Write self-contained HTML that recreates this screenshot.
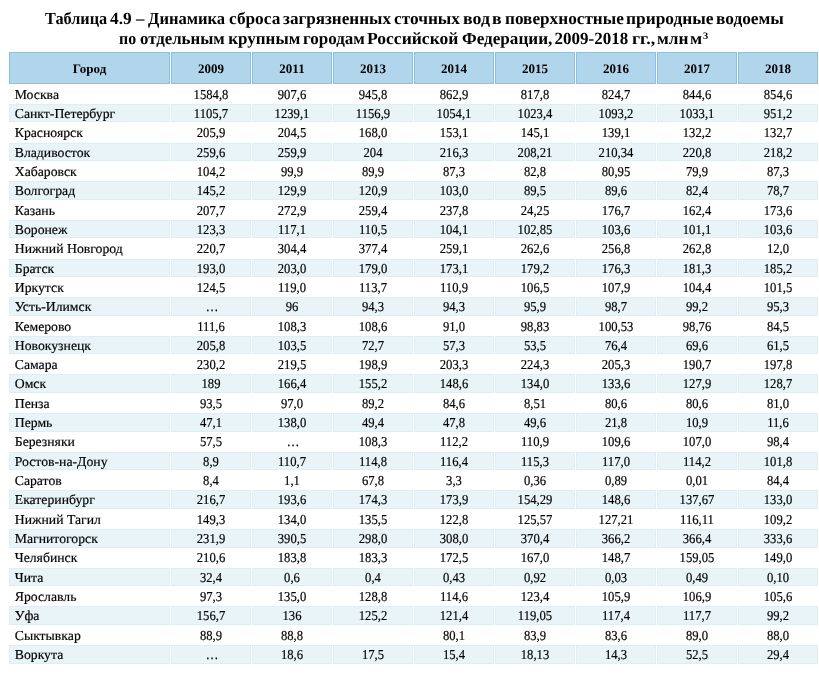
<!DOCTYPE html><html><head><meta charset="utf-8"><title>Таблица 4.9</title><style>
*{margin:0;padding:0;box-sizing:border-box}
html,body{width:819px;height:675px;background:#fff;overflow:hidden}
body{position:relative;font-family:"Liberation Serif",serif;color:#000}
.t{position:absolute;left:0;width:827px;text-align:center;font-weight:bold;font-size:17px;line-height:20px;white-space:nowrap;letter-spacing:-0.09px}
.tw{position:absolute;font-weight:bold;font-size:17px;line-height:20px;white-space:nowrap;transform-origin:0 0}
.h{position:absolute;top:52px;height:32px;background:#b1d5ea;border:1px solid #8cc0e1}
.ht{position:absolute;top:53px;height:32px;font-weight:bold;font-size:13px;line-height:32px;text-align:center}
.a{position:absolute;height:18.5px;background:#e8f4f7;border:1px solid #deeff4}
.c{position:absolute;line-height:19.325px;height:19.325px;white-space:nowrap;-webkit-text-stroke:0.18px #000}
.n{font-size:13.6px;text-align:center;transform:scaleX(0.93);transform-origin:50% 50%}
.l{font-size:13.6px;text-align:left;padding-left:5.7px;transform:scaleX(1.01);transform-origin:0 50%}
#tx{position:absolute;left:0;top:0;width:819px;height:675px;will-change:transform;text-rendering:geometricPrecision}
sup{font-size:10px;line-height:0;vertical-align:5px;margin-left:0.9px}
</style></head><body>
<div class="h" style="left:9px;width:161px"></div>
<div class="h" style="left:171px;width:80px"></div>
<div class="h" style="left:252px;width:80px"></div>
<div class="h" style="left:333px;width:80px"></div>
<div class="h" style="left:414px;width:80px"></div>
<div class="h" style="left:495px;width:80px"></div>
<div class="h" style="left:576px;width:80px"></div>
<div class="h" style="left:657px;width:80px"></div>
<div class="h" style="left:738px;width:80px"></div>
<div class="a" style="left:9px;width:161px;top:103.90px"></div>
<div class="a" style="left:171px;width:80px;top:103.90px"></div>
<div class="a" style="left:252px;width:80px;top:103.90px"></div>
<div class="a" style="left:333px;width:80px;top:103.90px"></div>
<div class="a" style="left:414px;width:80px;top:103.90px"></div>
<div class="a" style="left:495px;width:80px;top:103.90px"></div>
<div class="a" style="left:576px;width:80px;top:103.90px"></div>
<div class="a" style="left:657px;width:80px;top:103.90px"></div>
<div class="a" style="left:738px;width:80px;top:103.90px"></div>
<div class="a" style="left:9px;width:161px;top:142.55px"></div>
<div class="a" style="left:171px;width:80px;top:142.55px"></div>
<div class="a" style="left:252px;width:80px;top:142.55px"></div>
<div class="a" style="left:333px;width:80px;top:142.55px"></div>
<div class="a" style="left:414px;width:80px;top:142.55px"></div>
<div class="a" style="left:495px;width:80px;top:142.55px"></div>
<div class="a" style="left:576px;width:80px;top:142.55px"></div>
<div class="a" style="left:657px;width:80px;top:142.55px"></div>
<div class="a" style="left:738px;width:80px;top:142.55px"></div>
<div class="a" style="left:9px;width:161px;top:181.20px"></div>
<div class="a" style="left:171px;width:80px;top:181.20px"></div>
<div class="a" style="left:252px;width:80px;top:181.20px"></div>
<div class="a" style="left:333px;width:80px;top:181.20px"></div>
<div class="a" style="left:414px;width:80px;top:181.20px"></div>
<div class="a" style="left:495px;width:80px;top:181.20px"></div>
<div class="a" style="left:576px;width:80px;top:181.20px"></div>
<div class="a" style="left:657px;width:80px;top:181.20px"></div>
<div class="a" style="left:738px;width:80px;top:181.20px"></div>
<div class="a" style="left:9px;width:161px;top:219.85px"></div>
<div class="a" style="left:171px;width:80px;top:219.85px"></div>
<div class="a" style="left:252px;width:80px;top:219.85px"></div>
<div class="a" style="left:333px;width:80px;top:219.85px"></div>
<div class="a" style="left:414px;width:80px;top:219.85px"></div>
<div class="a" style="left:495px;width:80px;top:219.85px"></div>
<div class="a" style="left:576px;width:80px;top:219.85px"></div>
<div class="a" style="left:657px;width:80px;top:219.85px"></div>
<div class="a" style="left:738px;width:80px;top:219.85px"></div>
<div class="a" style="left:9px;width:161px;top:258.50px"></div>
<div class="a" style="left:171px;width:80px;top:258.50px"></div>
<div class="a" style="left:252px;width:80px;top:258.50px"></div>
<div class="a" style="left:333px;width:80px;top:258.50px"></div>
<div class="a" style="left:414px;width:80px;top:258.50px"></div>
<div class="a" style="left:495px;width:80px;top:258.50px"></div>
<div class="a" style="left:576px;width:80px;top:258.50px"></div>
<div class="a" style="left:657px;width:80px;top:258.50px"></div>
<div class="a" style="left:738px;width:80px;top:258.50px"></div>
<div class="a" style="left:9px;width:161px;top:297.15px"></div>
<div class="a" style="left:171px;width:80px;top:297.15px"></div>
<div class="a" style="left:252px;width:80px;top:297.15px"></div>
<div class="a" style="left:333px;width:80px;top:297.15px"></div>
<div class="a" style="left:414px;width:80px;top:297.15px"></div>
<div class="a" style="left:495px;width:80px;top:297.15px"></div>
<div class="a" style="left:576px;width:80px;top:297.15px"></div>
<div class="a" style="left:657px;width:80px;top:297.15px"></div>
<div class="a" style="left:738px;width:80px;top:297.15px"></div>
<div class="a" style="left:9px;width:161px;top:335.80px"></div>
<div class="a" style="left:171px;width:80px;top:335.80px"></div>
<div class="a" style="left:252px;width:80px;top:335.80px"></div>
<div class="a" style="left:333px;width:80px;top:335.80px"></div>
<div class="a" style="left:414px;width:80px;top:335.80px"></div>
<div class="a" style="left:495px;width:80px;top:335.80px"></div>
<div class="a" style="left:576px;width:80px;top:335.80px"></div>
<div class="a" style="left:657px;width:80px;top:335.80px"></div>
<div class="a" style="left:738px;width:80px;top:335.80px"></div>
<div class="a" style="left:9px;width:161px;top:374.45px"></div>
<div class="a" style="left:171px;width:80px;top:374.45px"></div>
<div class="a" style="left:252px;width:80px;top:374.45px"></div>
<div class="a" style="left:333px;width:80px;top:374.45px"></div>
<div class="a" style="left:414px;width:80px;top:374.45px"></div>
<div class="a" style="left:495px;width:80px;top:374.45px"></div>
<div class="a" style="left:576px;width:80px;top:374.45px"></div>
<div class="a" style="left:657px;width:80px;top:374.45px"></div>
<div class="a" style="left:738px;width:80px;top:374.45px"></div>
<div class="a" style="left:9px;width:161px;top:413.10px"></div>
<div class="a" style="left:171px;width:80px;top:413.10px"></div>
<div class="a" style="left:252px;width:80px;top:413.10px"></div>
<div class="a" style="left:333px;width:80px;top:413.10px"></div>
<div class="a" style="left:414px;width:80px;top:413.10px"></div>
<div class="a" style="left:495px;width:80px;top:413.10px"></div>
<div class="a" style="left:576px;width:80px;top:413.10px"></div>
<div class="a" style="left:657px;width:80px;top:413.10px"></div>
<div class="a" style="left:738px;width:80px;top:413.10px"></div>
<div class="a" style="left:9px;width:161px;top:451.75px"></div>
<div class="a" style="left:171px;width:80px;top:451.75px"></div>
<div class="a" style="left:252px;width:80px;top:451.75px"></div>
<div class="a" style="left:333px;width:80px;top:451.75px"></div>
<div class="a" style="left:414px;width:80px;top:451.75px"></div>
<div class="a" style="left:495px;width:80px;top:451.75px"></div>
<div class="a" style="left:576px;width:80px;top:451.75px"></div>
<div class="a" style="left:657px;width:80px;top:451.75px"></div>
<div class="a" style="left:738px;width:80px;top:451.75px"></div>
<div class="a" style="left:9px;width:161px;top:490.40px"></div>
<div class="a" style="left:171px;width:80px;top:490.40px"></div>
<div class="a" style="left:252px;width:80px;top:490.40px"></div>
<div class="a" style="left:333px;width:80px;top:490.40px"></div>
<div class="a" style="left:414px;width:80px;top:490.40px"></div>
<div class="a" style="left:495px;width:80px;top:490.40px"></div>
<div class="a" style="left:576px;width:80px;top:490.40px"></div>
<div class="a" style="left:657px;width:80px;top:490.40px"></div>
<div class="a" style="left:738px;width:80px;top:490.40px"></div>
<div class="a" style="left:9px;width:161px;top:529.05px"></div>
<div class="a" style="left:171px;width:80px;top:529.05px"></div>
<div class="a" style="left:252px;width:80px;top:529.05px"></div>
<div class="a" style="left:333px;width:80px;top:529.05px"></div>
<div class="a" style="left:414px;width:80px;top:529.05px"></div>
<div class="a" style="left:495px;width:80px;top:529.05px"></div>
<div class="a" style="left:576px;width:80px;top:529.05px"></div>
<div class="a" style="left:657px;width:80px;top:529.05px"></div>
<div class="a" style="left:738px;width:80px;top:529.05px"></div>
<div class="a" style="left:9px;width:161px;top:567.70px"></div>
<div class="a" style="left:171px;width:80px;top:567.70px"></div>
<div class="a" style="left:252px;width:80px;top:567.70px"></div>
<div class="a" style="left:333px;width:80px;top:567.70px"></div>
<div class="a" style="left:414px;width:80px;top:567.70px"></div>
<div class="a" style="left:495px;width:80px;top:567.70px"></div>
<div class="a" style="left:576px;width:80px;top:567.70px"></div>
<div class="a" style="left:657px;width:80px;top:567.70px"></div>
<div class="a" style="left:738px;width:80px;top:567.70px"></div>
<div class="a" style="left:9px;width:161px;top:606.35px"></div>
<div class="a" style="left:171px;width:80px;top:606.35px"></div>
<div class="a" style="left:252px;width:80px;top:606.35px"></div>
<div class="a" style="left:333px;width:80px;top:606.35px"></div>
<div class="a" style="left:414px;width:80px;top:606.35px"></div>
<div class="a" style="left:495px;width:80px;top:606.35px"></div>
<div class="a" style="left:576px;width:80px;top:606.35px"></div>
<div class="a" style="left:657px;width:80px;top:606.35px"></div>
<div class="a" style="left:738px;width:80px;top:606.35px"></div>
<div class="a" style="left:9px;width:161px;top:645.00px"></div>
<div class="a" style="left:171px;width:80px;top:645.00px"></div>
<div class="a" style="left:252px;width:80px;top:645.00px"></div>
<div class="a" style="left:333px;width:80px;top:645.00px"></div>
<div class="a" style="left:414px;width:80px;top:645.00px"></div>
<div class="a" style="left:495px;width:80px;top:645.00px"></div>
<div class="a" style="left:576px;width:80px;top:645.00px"></div>
<div class="a" style="left:657px;width:80px;top:645.00px"></div>
<div class="a" style="left:738px;width:80px;top:645.00px"></div>
<div id="tx">
<div class="tw" style="top:9.3px;left:44.60px;transform:scaleX(0.954)">Таблица</div>
<div class="tw" style="top:9.3px;left:110.00px;transform:scaleX(1.019)">4.9</div>
<div class="tw" style="top:9.3px;left:135.90px;transform:scaleX(0.988)">–</div>
<div class="tw" style="top:9.3px;left:148.10px;transform:scaleX(0.973)">Динамика</div>
<div class="tw" style="top:9.3px;left:228.88px;transform:scaleX(1.016)">сброса</div>
<div class="tw" style="top:9.3px;left:283.40px;transform:scaleX(1.007)">загрязненных</div>
<div class="tw" style="top:9.3px;left:393.68px;transform:scaleX(1.017)">сточных</div>
<div class="tw" style="top:9.3px;left:462.65px;transform:scaleX(1.050)">вод</div>
<div class="tw" style="top:9.3px;left:491.95px;transform:scaleX(1.050)">в</div>
<div class="tw" style="top:9.3px;left:505.09px;transform:scaleX(1.013)">поверхностные</div>
<div class="tw" style="top:9.3px;left:626.48px;transform:scaleX(1.020)">природные</div>
<div class="tw" style="top:9.3px;left:716.08px;transform:scaleX(1.020)">водоемы</div>
<div class="tw" style="top:29.3px;left:118.56px;transform:scaleX(0.935)">по</div>
<div class="tw" style="top:29.3px;left:140.11px;transform:scaleX(0.989)">отдельным</div>
<div class="tw" style="top:29.3px;left:228.30px;transform:scaleX(1.000)">крупным</div>
<div class="tw" style="top:29.3px;left:303.40px;transform:scaleX(0.998)">городам</div>
<div class="tw" style="top:29.3px;left:367.07px;transform:scaleX(1.032)">Российской</div>
<div class="tw" style="top:29.3px;left:461.99px;transform:scaleX(1.007)">Федерации,</div>
<div class="tw" style="top:29.3px;left:554.50px;transform:scaleX(1.000)">2009-2018</div>
<div class="tw" style="top:29.3px;left:631.85px;transform:scaleX(1.050)">гг.,</div>
<div class="tw" style="top:29.3px;left:657.28px;transform:scaleX(1.017)">млн</div>
<div class="tw" style="top:29.3px;left:690.35px;transform:scaleX(1.050)">м<sup>3</sup></div>
<div class="ht" style="left:9px;width:161px">Город</div>
<div class="ht" style="left:171px;width:80px">2009</div>
<div class="ht" style="left:252px;width:80px">2011</div>
<div class="ht" style="left:333px;width:80px">2013</div>
<div class="ht" style="left:414px;width:80px">2014</div>
<div class="ht" style="left:495px;width:80px">2015</div>
<div class="ht" style="left:576px;width:80px">2016</div>
<div class="ht" style="left:657px;width:80px">2017</div>
<div class="ht" style="left:738px;width:80px">2018</div>
<div class="c l" style="left:9px;width:161px;top:84.60px">Москва</div>
<div class="c n" style="left:171px;width:80px;top:84.60px">1584,8</div>
<div class="c n" style="left:252px;width:80px;top:84.60px">907,6</div>
<div class="c n" style="left:333px;width:80px;top:84.60px">945,8</div>
<div class="c n" style="left:414px;width:80px;top:84.60px">862,9</div>
<div class="c n" style="left:495px;width:80px;top:84.60px">817,8</div>
<div class="c n" style="left:576px;width:80px;top:84.60px">824,7</div>
<div class="c n" style="left:657px;width:80px;top:84.60px">844,6</div>
<div class="c n" style="left:738px;width:80px;top:84.60px">854,6</div>
<div class="c l" style="left:9px;width:161px;top:103.92px">Санкт-Петербург</div>
<div class="c n" style="left:171px;width:80px;top:103.92px">1105,7</div>
<div class="c n" style="left:252px;width:80px;top:103.92px">1239,1</div>
<div class="c n" style="left:333px;width:80px;top:103.92px">1156,9</div>
<div class="c n" style="left:414px;width:80px;top:103.92px">1054,1</div>
<div class="c n" style="left:495px;width:80px;top:103.92px">1023,4</div>
<div class="c n" style="left:576px;width:80px;top:103.92px">1093,2</div>
<div class="c n" style="left:657px;width:80px;top:103.92px">1033,1</div>
<div class="c n" style="left:738px;width:80px;top:103.92px">951,2</div>
<div class="c l" style="left:9px;width:161px;top:123.25px">Красноярск</div>
<div class="c n" style="left:171px;width:80px;top:123.25px">205,9</div>
<div class="c n" style="left:252px;width:80px;top:123.25px">204,5</div>
<div class="c n" style="left:333px;width:80px;top:123.25px">168,0</div>
<div class="c n" style="left:414px;width:80px;top:123.25px">153,1</div>
<div class="c n" style="left:495px;width:80px;top:123.25px">145,1</div>
<div class="c n" style="left:576px;width:80px;top:123.25px">139,1</div>
<div class="c n" style="left:657px;width:80px;top:123.25px">132,2</div>
<div class="c n" style="left:738px;width:80px;top:123.25px">132,7</div>
<div class="c l" style="left:9px;width:161px;top:142.57px">Владивосток</div>
<div class="c n" style="left:171px;width:80px;top:142.57px">259,6</div>
<div class="c n" style="left:252px;width:80px;top:142.57px">259,9</div>
<div class="c n" style="left:333px;width:80px;top:142.57px">204</div>
<div class="c n" style="left:414px;width:80px;top:142.57px">216,3</div>
<div class="c n" style="left:495px;width:80px;top:142.57px">208,21</div>
<div class="c n" style="left:576px;width:80px;top:142.57px">210,34</div>
<div class="c n" style="left:657px;width:80px;top:142.57px">220,8</div>
<div class="c n" style="left:738px;width:80px;top:142.57px">218,2</div>
<div class="c l" style="left:9px;width:161px;top:161.90px">Хабаровск</div>
<div class="c n" style="left:171px;width:80px;top:161.90px">104,2</div>
<div class="c n" style="left:252px;width:80px;top:161.90px">99,9</div>
<div class="c n" style="left:333px;width:80px;top:161.90px">89,9</div>
<div class="c n" style="left:414px;width:80px;top:161.90px">87,3</div>
<div class="c n" style="left:495px;width:80px;top:161.90px">82,8</div>
<div class="c n" style="left:576px;width:80px;top:161.90px">80,95</div>
<div class="c n" style="left:657px;width:80px;top:161.90px">79,9</div>
<div class="c n" style="left:738px;width:80px;top:161.90px">87,3</div>
<div class="c l" style="left:9px;width:161px;top:181.22px">Волгоград</div>
<div class="c n" style="left:171px;width:80px;top:181.22px">145,2</div>
<div class="c n" style="left:252px;width:80px;top:181.22px">129,9</div>
<div class="c n" style="left:333px;width:80px;top:181.22px">120,9</div>
<div class="c n" style="left:414px;width:80px;top:181.22px">103,0</div>
<div class="c n" style="left:495px;width:80px;top:181.22px">89,5</div>
<div class="c n" style="left:576px;width:80px;top:181.22px">89,6</div>
<div class="c n" style="left:657px;width:80px;top:181.22px">82,4</div>
<div class="c n" style="left:738px;width:80px;top:181.22px">78,7</div>
<div class="c l" style="left:9px;width:161px;top:200.55px">Казань</div>
<div class="c n" style="left:171px;width:80px;top:200.55px">207,7</div>
<div class="c n" style="left:252px;width:80px;top:200.55px">272,9</div>
<div class="c n" style="left:333px;width:80px;top:200.55px">259,4</div>
<div class="c n" style="left:414px;width:80px;top:200.55px">237,8</div>
<div class="c n" style="left:495px;width:80px;top:200.55px">24,25</div>
<div class="c n" style="left:576px;width:80px;top:200.55px">176,7</div>
<div class="c n" style="left:657px;width:80px;top:200.55px">162,4</div>
<div class="c n" style="left:738px;width:80px;top:200.55px">173,6</div>
<div class="c l" style="left:9px;width:161px;top:219.88px">Воронеж</div>
<div class="c n" style="left:171px;width:80px;top:219.88px">123,3</div>
<div class="c n" style="left:252px;width:80px;top:219.88px">117,1</div>
<div class="c n" style="left:333px;width:80px;top:219.88px">110,5</div>
<div class="c n" style="left:414px;width:80px;top:219.88px">104,1</div>
<div class="c n" style="left:495px;width:80px;top:219.88px">102,85</div>
<div class="c n" style="left:576px;width:80px;top:219.88px">103,6</div>
<div class="c n" style="left:657px;width:80px;top:219.88px">101,1</div>
<div class="c n" style="left:738px;width:80px;top:219.88px">103,6</div>
<div class="c l" style="left:9px;width:161px;top:239.20px">Нижний Новгород</div>
<div class="c n" style="left:171px;width:80px;top:239.20px">220,7</div>
<div class="c n" style="left:252px;width:80px;top:239.20px">304,4</div>
<div class="c n" style="left:333px;width:80px;top:239.20px">377,4</div>
<div class="c n" style="left:414px;width:80px;top:239.20px">259,1</div>
<div class="c n" style="left:495px;width:80px;top:239.20px">262,6</div>
<div class="c n" style="left:576px;width:80px;top:239.20px">256,8</div>
<div class="c n" style="left:657px;width:80px;top:239.20px">262,8</div>
<div class="c n" style="left:738px;width:80px;top:239.20px">12,0</div>
<div class="c l" style="left:9px;width:161px;top:258.52px">Братск</div>
<div class="c n" style="left:171px;width:80px;top:258.52px">193,0</div>
<div class="c n" style="left:252px;width:80px;top:258.52px">203,0</div>
<div class="c n" style="left:333px;width:80px;top:258.52px">179,0</div>
<div class="c n" style="left:414px;width:80px;top:258.52px">173,1</div>
<div class="c n" style="left:495px;width:80px;top:258.52px">179,2</div>
<div class="c n" style="left:576px;width:80px;top:258.52px">176,3</div>
<div class="c n" style="left:657px;width:80px;top:258.52px">181,3</div>
<div class="c n" style="left:738px;width:80px;top:258.52px">185,2</div>
<div class="c l" style="left:9px;width:161px;top:277.85px">Иркутск</div>
<div class="c n" style="left:171px;width:80px;top:277.85px">124,5</div>
<div class="c n" style="left:252px;width:80px;top:277.85px">119,0</div>
<div class="c n" style="left:333px;width:80px;top:277.85px">113,7</div>
<div class="c n" style="left:414px;width:80px;top:277.85px">110,9</div>
<div class="c n" style="left:495px;width:80px;top:277.85px">106,5</div>
<div class="c n" style="left:576px;width:80px;top:277.85px">107,9</div>
<div class="c n" style="left:657px;width:80px;top:277.85px">104,4</div>
<div class="c n" style="left:738px;width:80px;top:277.85px">101,5</div>
<div class="c l" style="left:9px;width:161px;top:297.17px">Усть-Илимск</div>
<div class="c n" style="left:172px;width:80px;top:297.17px">…</div>
<div class="c n" style="left:252px;width:80px;top:297.17px">96</div>
<div class="c n" style="left:333px;width:80px;top:297.17px">94,3</div>
<div class="c n" style="left:414px;width:80px;top:297.17px">94,3</div>
<div class="c n" style="left:495px;width:80px;top:297.17px">95,9</div>
<div class="c n" style="left:576px;width:80px;top:297.17px">98,7</div>
<div class="c n" style="left:657px;width:80px;top:297.17px">99,2</div>
<div class="c n" style="left:738px;width:80px;top:297.17px">95,3</div>
<div class="c l" style="left:9px;width:161px;top:316.50px">Кемерово</div>
<div class="c n" style="left:171px;width:80px;top:316.50px">111,6</div>
<div class="c n" style="left:252px;width:80px;top:316.50px">108,3</div>
<div class="c n" style="left:333px;width:80px;top:316.50px">108,6</div>
<div class="c n" style="left:414px;width:80px;top:316.50px">91,0</div>
<div class="c n" style="left:495px;width:80px;top:316.50px">98,83</div>
<div class="c n" style="left:576px;width:80px;top:316.50px">100,53</div>
<div class="c n" style="left:657px;width:80px;top:316.50px">98,76</div>
<div class="c n" style="left:738px;width:80px;top:316.50px">84,5</div>
<div class="c l" style="left:9px;width:161px;top:335.82px">Новокузнецк</div>
<div class="c n" style="left:171px;width:80px;top:335.82px">205,8</div>
<div class="c n" style="left:252px;width:80px;top:335.82px">103,5</div>
<div class="c n" style="left:333px;width:80px;top:335.82px">72,7</div>
<div class="c n" style="left:414px;width:80px;top:335.82px">57,3</div>
<div class="c n" style="left:495px;width:80px;top:335.82px">53,5</div>
<div class="c n" style="left:576px;width:80px;top:335.82px">76,4</div>
<div class="c n" style="left:657px;width:80px;top:335.82px">69,6</div>
<div class="c n" style="left:738px;width:80px;top:335.82px">61,5</div>
<div class="c l" style="left:9px;width:161px;top:355.15px">Самара</div>
<div class="c n" style="left:171px;width:80px;top:355.15px">230,2</div>
<div class="c n" style="left:252px;width:80px;top:355.15px">219,5</div>
<div class="c n" style="left:333px;width:80px;top:355.15px">198,9</div>
<div class="c n" style="left:414px;width:80px;top:355.15px">203,3</div>
<div class="c n" style="left:495px;width:80px;top:355.15px">224,3</div>
<div class="c n" style="left:576px;width:80px;top:355.15px">205,3</div>
<div class="c n" style="left:657px;width:80px;top:355.15px">190,7</div>
<div class="c n" style="left:738px;width:80px;top:355.15px">197,8</div>
<div class="c l" style="left:9px;width:161px;top:374.48px">Омск</div>
<div class="c n" style="left:171px;width:80px;top:374.48px">189</div>
<div class="c n" style="left:252px;width:80px;top:374.48px">166,4</div>
<div class="c n" style="left:333px;width:80px;top:374.48px">155,2</div>
<div class="c n" style="left:414px;width:80px;top:374.48px">148,6</div>
<div class="c n" style="left:495px;width:80px;top:374.48px">134,0</div>
<div class="c n" style="left:576px;width:80px;top:374.48px">133,6</div>
<div class="c n" style="left:657px;width:80px;top:374.48px">127,9</div>
<div class="c n" style="left:738px;width:80px;top:374.48px">128,7</div>
<div class="c l" style="left:9px;width:161px;top:393.80px">Пенза</div>
<div class="c n" style="left:171px;width:80px;top:393.80px">93,5</div>
<div class="c n" style="left:252px;width:80px;top:393.80px">97,0</div>
<div class="c n" style="left:333px;width:80px;top:393.80px">89,2</div>
<div class="c n" style="left:414px;width:80px;top:393.80px">84,6</div>
<div class="c n" style="left:495px;width:80px;top:393.80px">8,51</div>
<div class="c n" style="left:576px;width:80px;top:393.80px">80,6</div>
<div class="c n" style="left:657px;width:80px;top:393.80px">80,6</div>
<div class="c n" style="left:738px;width:80px;top:393.80px">81,0</div>
<div class="c l" style="left:9px;width:161px;top:413.12px">Пермь</div>
<div class="c n" style="left:171px;width:80px;top:413.12px">47,1</div>
<div class="c n" style="left:252px;width:80px;top:413.12px">138,0</div>
<div class="c n" style="left:333px;width:80px;top:413.12px">49,4</div>
<div class="c n" style="left:414px;width:80px;top:413.12px">47,8</div>
<div class="c n" style="left:495px;width:80px;top:413.12px">49,6</div>
<div class="c n" style="left:576px;width:80px;top:413.12px">21,8</div>
<div class="c n" style="left:657px;width:80px;top:413.12px">10,9</div>
<div class="c n" style="left:738px;width:80px;top:413.12px">11,6</div>
<div class="c l" style="left:9px;width:161px;top:432.45px">Березняки</div>
<div class="c n" style="left:171px;width:80px;top:432.45px">57,5</div>
<div class="c n" style="left:253px;width:80px;top:432.45px">…</div>
<div class="c n" style="left:333px;width:80px;top:432.45px">108,3</div>
<div class="c n" style="left:414px;width:80px;top:432.45px">112,2</div>
<div class="c n" style="left:495px;width:80px;top:432.45px">110,9</div>
<div class="c n" style="left:576px;width:80px;top:432.45px">109,6</div>
<div class="c n" style="left:657px;width:80px;top:432.45px">107,0</div>
<div class="c n" style="left:738px;width:80px;top:432.45px">98,4</div>
<div class="c l" style="left:9px;width:161px;top:451.77px">Ростов-на-Дону</div>
<div class="c n" style="left:171px;width:80px;top:451.77px">8,9</div>
<div class="c n" style="left:252px;width:80px;top:451.77px">110,7</div>
<div class="c n" style="left:333px;width:80px;top:451.77px">114,8</div>
<div class="c n" style="left:414px;width:80px;top:451.77px">116,4</div>
<div class="c n" style="left:495px;width:80px;top:451.77px">115,3</div>
<div class="c n" style="left:576px;width:80px;top:451.77px">117,0</div>
<div class="c n" style="left:657px;width:80px;top:451.77px">114,2</div>
<div class="c n" style="left:738px;width:80px;top:451.77px">101,8</div>
<div class="c l" style="left:9px;width:161px;top:471.10px">Саратов</div>
<div class="c n" style="left:171px;width:80px;top:471.10px">8,4</div>
<div class="c n" style="left:252px;width:80px;top:471.10px">1,1</div>
<div class="c n" style="left:333px;width:80px;top:471.10px">67,8</div>
<div class="c n" style="left:414px;width:80px;top:471.10px">3,3</div>
<div class="c n" style="left:495px;width:80px;top:471.10px">0,36</div>
<div class="c n" style="left:576px;width:80px;top:471.10px">0,89</div>
<div class="c n" style="left:657px;width:80px;top:471.10px">0,01</div>
<div class="c n" style="left:738px;width:80px;top:471.10px">84,4</div>
<div class="c l" style="left:9px;width:161px;top:490.42px">Екатеринбург</div>
<div class="c n" style="left:171px;width:80px;top:490.42px">216,7</div>
<div class="c n" style="left:252px;width:80px;top:490.42px">193,6</div>
<div class="c n" style="left:333px;width:80px;top:490.42px">174,3</div>
<div class="c n" style="left:414px;width:80px;top:490.42px">173,9</div>
<div class="c n" style="left:495px;width:80px;top:490.42px">154,29</div>
<div class="c n" style="left:576px;width:80px;top:490.42px">148,6</div>
<div class="c n" style="left:657px;width:80px;top:490.42px">137,67</div>
<div class="c n" style="left:738px;width:80px;top:490.42px">133,0</div>
<div class="c l" style="left:9px;width:161px;top:509.75px">Нижний Тагил</div>
<div class="c n" style="left:171px;width:80px;top:509.75px">149,3</div>
<div class="c n" style="left:252px;width:80px;top:509.75px">134,0</div>
<div class="c n" style="left:333px;width:80px;top:509.75px">135,5</div>
<div class="c n" style="left:414px;width:80px;top:509.75px">122,8</div>
<div class="c n" style="left:495px;width:80px;top:509.75px">125,57</div>
<div class="c n" style="left:576px;width:80px;top:509.75px">127,21</div>
<div class="c n" style="left:657px;width:80px;top:509.75px">116,11</div>
<div class="c n" style="left:738px;width:80px;top:509.75px">109,2</div>
<div class="c l" style="left:9px;width:161px;top:529.07px">Магнитогорск</div>
<div class="c n" style="left:171px;width:80px;top:529.07px">231,9</div>
<div class="c n" style="left:252px;width:80px;top:529.07px">390,5</div>
<div class="c n" style="left:333px;width:80px;top:529.07px">298,0</div>
<div class="c n" style="left:414px;width:80px;top:529.07px">308,0</div>
<div class="c n" style="left:495px;width:80px;top:529.07px">370,4</div>
<div class="c n" style="left:576px;width:80px;top:529.07px">366,2</div>
<div class="c n" style="left:657px;width:80px;top:529.07px">366,4</div>
<div class="c n" style="left:738px;width:80px;top:529.07px">333,6</div>
<div class="c l" style="left:9px;width:161px;top:548.40px">Челябинск</div>
<div class="c n" style="left:171px;width:80px;top:548.40px">210,6</div>
<div class="c n" style="left:252px;width:80px;top:548.40px">183,8</div>
<div class="c n" style="left:333px;width:80px;top:548.40px">183,3</div>
<div class="c n" style="left:414px;width:80px;top:548.40px">172,5</div>
<div class="c n" style="left:495px;width:80px;top:548.40px">167,0</div>
<div class="c n" style="left:576px;width:80px;top:548.40px">148,7</div>
<div class="c n" style="left:657px;width:80px;top:548.40px">159,05</div>
<div class="c n" style="left:738px;width:80px;top:548.40px">149,0</div>
<div class="c l" style="left:9px;width:161px;top:567.73px">Чита</div>
<div class="c n" style="left:171px;width:80px;top:567.73px">32,4</div>
<div class="c n" style="left:252px;width:80px;top:567.73px">0,6</div>
<div class="c n" style="left:333px;width:80px;top:567.73px">0,4</div>
<div class="c n" style="left:414px;width:80px;top:567.73px">0,43</div>
<div class="c n" style="left:495px;width:80px;top:567.73px">0,92</div>
<div class="c n" style="left:576px;width:80px;top:567.73px">0,03</div>
<div class="c n" style="left:657px;width:80px;top:567.73px">0,49</div>
<div class="c n" style="left:738px;width:80px;top:567.73px">0,10</div>
<div class="c l" style="left:9px;width:161px;top:587.05px">Ярославль</div>
<div class="c n" style="left:171px;width:80px;top:587.05px">97,3</div>
<div class="c n" style="left:252px;width:80px;top:587.05px">135,0</div>
<div class="c n" style="left:333px;width:80px;top:587.05px">128,8</div>
<div class="c n" style="left:414px;width:80px;top:587.05px">114,6</div>
<div class="c n" style="left:495px;width:80px;top:587.05px">123,4</div>
<div class="c n" style="left:576px;width:80px;top:587.05px">105,9</div>
<div class="c n" style="left:657px;width:80px;top:587.05px">106,9</div>
<div class="c n" style="left:738px;width:80px;top:587.05px">105,6</div>
<div class="c l" style="left:9px;width:161px;top:606.38px">Уфа</div>
<div class="c n" style="left:171px;width:80px;top:606.38px">156,7</div>
<div class="c n" style="left:252px;width:80px;top:606.38px">136</div>
<div class="c n" style="left:333px;width:80px;top:606.38px">125,2</div>
<div class="c n" style="left:414px;width:80px;top:606.38px">121,4</div>
<div class="c n" style="left:495px;width:80px;top:606.38px">119,05</div>
<div class="c n" style="left:576px;width:80px;top:606.38px">117,4</div>
<div class="c n" style="left:657px;width:80px;top:606.38px">117,7</div>
<div class="c n" style="left:738px;width:80px;top:606.38px">99,2</div>
<div class="c l" style="left:9px;width:161px;top:625.70px">Сыктывкар</div>
<div class="c n" style="left:171px;width:80px;top:625.70px">88,9</div>
<div class="c n" style="left:252px;width:80px;top:625.70px">88,8</div>
<div class="c n" style="left:414px;width:80px;top:625.70px">80,1</div>
<div class="c n" style="left:495px;width:80px;top:625.70px">83,9</div>
<div class="c n" style="left:576px;width:80px;top:625.70px">83,6</div>
<div class="c n" style="left:657px;width:80px;top:625.70px">89,0</div>
<div class="c n" style="left:738px;width:80px;top:625.70px">88,0</div>
<div class="c l" style="left:9px;width:161px;top:645.02px">Воркута</div>
<div class="c n" style="left:172px;width:80px;top:645.02px">…</div>
<div class="c n" style="left:252px;width:80px;top:645.02px">18,6</div>
<div class="c n" style="left:333px;width:80px;top:645.02px">17,5</div>
<div class="c n" style="left:414px;width:80px;top:645.02px">15,4</div>
<div class="c n" style="left:495px;width:80px;top:645.02px">18,13</div>
<div class="c n" style="left:576px;width:80px;top:645.02px">14,3</div>
<div class="c n" style="left:657px;width:80px;top:645.02px">52,5</div>
<div class="c n" style="left:738px;width:80px;top:645.02px">29,4</div>
</div></body></html>
